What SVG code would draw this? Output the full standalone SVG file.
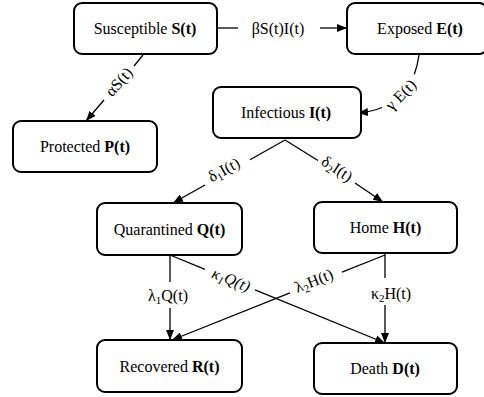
<svg xmlns="http://www.w3.org/2000/svg" width="484" height="397" viewBox="0 0 484 397">
<style>
  .box { fill: #fff; stroke: #000; stroke-width: 2; }
  .t { font-family: "Liberation Serif", "Times New Roman", serif; font-size: 16px; fill: #000; text-anchor: middle; }
  .b { font-weight: bold; }
  .sub { font-size: 11px; }
  .ln { fill: none; stroke: #000; stroke-width: 1.3; }
  .ar { marker-end: url(#arr); }
</style>
<defs>
  <marker id="arr" markerUnits="userSpaceOnUse" markerWidth="11" markerHeight="8" refX="10" refY="4" orient="auto" viewBox="0 0 11 8">
    <path d="M0,0 L10,4 L0,8 z" fill="#000"/>
  </marker>
</defs>
<rect width="484" height="397" fill="#fff"/>

<g id="connectors">
  <line class="ln" x1="217" y1="28" x2="238" y2="28"/>
  <line class="ln ar" x1="320" y1="28" x2="347" y2="28"/>
  <text class="t" x="278" y="34">βS(t)I(t)</text>

  <line class="ln" x1="143" y1="55" x2="134" y2="66"/>
  <line class="ln ar" x1="104" y1="100" x2="86" y2="121"/>
  <text class="t" transform="translate(119,82) rotate(-49)" x="0" y="5">αS(t)</text>

  <path class="ln" d="M419,55 Q417.6,65.6 414.3,74.3"/>
  <path class="ln ar" d="M382.1,107.5 Q371.5,111.75 358,113"/>
  <text class="t" transform="translate(401,95) rotate(-45)" x="0" y="5">γ E(t)</text>

  <line class="ln" x1="285" y1="140" x2="250" y2="159.7"/>
  <line class="ln ar" x1="205" y1="185" x2="173" y2="203"/>
  <text class="t" transform="translate(224,170) rotate(-29)" x="0" y="5">δ<tspan class="sub" dy="3">1</tspan><tspan dy="-3">I(t)</tspan></text>

  <line class="ln" x1="285" y1="140" x2="318" y2="160.5"/>
  <line class="ln ar" x1="355" y1="183" x2="383" y2="202"/>
  <text class="t" transform="translate(337,169) rotate(33)" x="0" y="5">δ<tspan class="sub" dy="3">2</tspan><tspan dy="-3">I(t)</tspan></text>

  <line class="ln" x1="170" y1="255" x2="170" y2="282"/>
  <line class="ln ar" x1="170" y1="308" x2="170" y2="340"/>
  <text class="t" x="168" y="301">λ<tspan class="sub" dy="3">1</tspan><tspan dy="-3">Q(t)</tspan></text>

  <line class="ln" x1="385" y1="254" x2="385" y2="278"/>
  <line class="ln ar" x1="385" y1="305" x2="385" y2="343"/>
  <text class="t" x="391" y="299">κ<tspan class="sub" dy="3">2</tspan><tspan dy="-3">H(t)</tspan></text>

  <line class="ln" x1="170" y1="255" x2="205" y2="269.3"/>
  <line class="ln ar" x1="255" y1="289.8" x2="385" y2="343"/>
  <text class="t" font-style="italic" transform="translate(231,280) rotate(22)" x="0" y="5">κ<tspan class="sub" dy="3">1</tspan><tspan dy="-3">Q(t)</tspan></text>

  <line class="ln" x1="385" y1="255" x2="342" y2="272.2"/>
  <line class="ln ar" x1="290" y1="292.9" x2="172" y2="340"/>
  <text class="t" transform="translate(314,281) rotate(-22)" x="0" y="5">λ<tspan class="sub" dy="3">2</tspan><tspan dy="-3">H(t)</tspan></text>
</g>

<g id="node-S">
  <rect class="box" x="74" y="3" width="143" height="51" rx="8"/>
  <text class="t" x="145" y="34">Susceptible <tspan class="b">S(t)</tspan></text>
</g>
<g id="node-E">
  <rect class="box" x="347" y="3" width="140" height="51" rx="8"/>
  <text class="t" x="420" y="34">Exposed <tspan class="b">E(t)</tspan></text>
</g>
<g id="node-I">
  <rect class="box" x="213" y="87" width="148" height="51" rx="8"/>
  <text class="t" x="286" y="118">Infectious <tspan class="b">I(t)</tspan></text>
</g>
<g id="node-P">
  <rect class="box" x="13" y="121" width="144" height="51" rx="8"/>
  <text class="t" x="85" y="152">Protected <tspan class="b">P(t)</tspan></text>
</g>
<g id="node-Q">
  <rect class="box" x="97" y="203" width="145" height="52" rx="8"/>
  <text class="t" x="169.5" y="235">Quarantined <tspan class="b">Q(t)</tspan></text>
</g>
<g id="node-H">
  <rect class="box" x="314" y="202" width="143" height="51" rx="8"/>
  <text class="t" x="385.5" y="233">Home <tspan class="b">H(t)</tspan></text>
</g>
<g id="node-R">
  <rect class="box" x="97" y="340" width="145" height="52" rx="8"/>
  <text class="t" x="169.5" y="372">Recovered <tspan class="b">R(t)</tspan></text>
</g>
<g id="node-D">
  <rect class="box" x="314" y="343" width="143" height="51" rx="8"/>
  <text class="t" x="385" y="374">Death <tspan class="b">D(t)</tspan></text>
</g>
</svg>
